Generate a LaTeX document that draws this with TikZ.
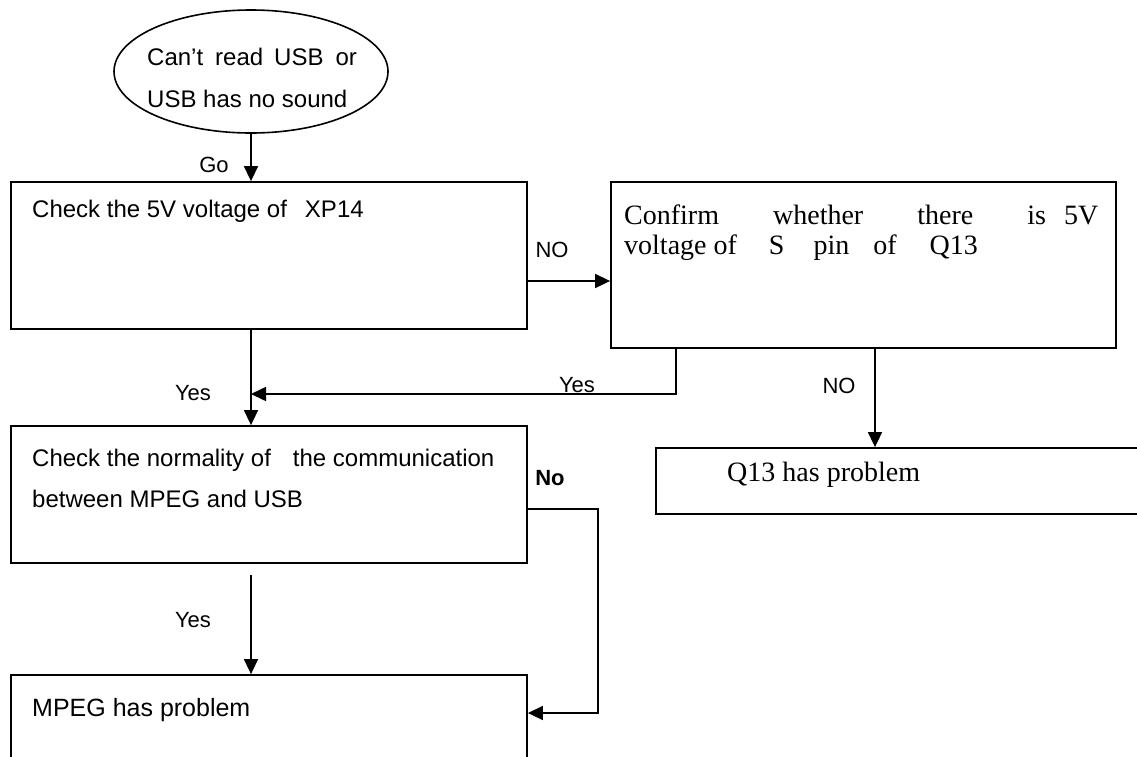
\documentclass[tikz,border=0pt]{standalone}
\usepackage{fontspec}
\setmainfont{Liberation Serif}
\setsansfont{Liberation Sans}
\newfontfamily\arialface{Liberation Sans}
\newfontfamily\romanface{Liberation Serif}
\usetikzlibrary{arrows.meta,shapes.geometric}

\tikzset{
  box/.style={draw, rectangle, line width=1.8pt, inner sep=0pt},
  conn/.style={line width=1.6pt},
  arr/.style={conn, -{Triangle[length=15pt,width=14pt]}},
  txt/.style={inner sep=0pt, anchor=base west, font=\arialface\fontsize{24}{28}\selectfont},
  stxt/.style={inner sep=0pt, anchor=base west, font=\romanface\fontsize{28}{32}\selectfont},
  lbl/.style={inner sep=0pt, font=\arialface\fontsize{22}{26}\selectfont}
}

\begin{document}
\begin{tikzpicture}[x=1pt,y=-1pt]
\useasboundingbox (0,0) rectangle (1137,756);
\clip (0,0) rectangle (1137,756);

% start terminal
\node[draw, ellipse, line width=1.6pt, inner sep=0pt, minimum width=274pt, minimum height=123pt] (start) at (251,71.5) {};
\node[txt] (s1) at (147,65) {Can’t\hspace{12pt}read\hspace{11pt}USB\hspace{12pt}or};
\node[txt] (s2) at (147,107) {USB has no sound};

% process boxes
\node[box, minimum width=516pt, minimum height=147pt] (b1) at (269,255.5) {};
\node[box, minimum width=505pt, minimum height=166pt] (b2) at (863.5,265) {};
\node[box, minimum width=516pt, minimum height=137pt] (b3) at (269,494.5) {};
\node[box, minimum width=494pt, minimum height=66pt] (b4) at (903,481) {};
\node[box, minimum width=516pt, minimum height=100pt] (b5) at (269,725) {};

% box texts
\node[txt] (t1) at (32,217) {Check the 5V voltage of\hspace{18pt}XP14};
\node[stxt] (t2a) at (624,224) {\makebox[474pt][l]{Confirm\hfill whether\hfill there\hfill is\hspace{18pt}5V}};
\node[stxt] (t2b) at (624,254) {voltage of\hspace{32pt}S\hspace{29pt}pin\hspace{24pt}of\hspace{33pt}Q13};
\node[txt] (t3a) at (32,466) {Check the normality of\hspace{22pt}the communication};
\node[txt] (t3b) at (32,507) {between MPEG and USB};
\node[stxt] (t4) at (727,481) {Q13 has problem};
\node[txt, font=\arialface\fontsize{25}{29}\selectfont] (t5) at (32,716) {MPEG has problem};

% connectors
\draw[arr] (start.south) -- (start.south |- b1.north);
\draw[arr] (b1.east |- 0,281) -- (b2.west |- 0,281);
\draw[arr] (start.south |- b1.south) -- (start.south |- b3.north);
\draw[arr] (b2.south -| 676,0) -- (676,394) -- (start.south |- 0,394);
\draw[arr] (b2.south -| 875,0) -- (b4.north -| 875,0);
\coordinate (gap) at (251,575);
\draw[arr] (gap) -- (gap |- b5.north);
\draw[arr] (b3.east |- 0,509) -| (598,713) -- (b5.east |- 0,713);

% connector labels
\node[lbl] (go) at (214,165) {Go};
\node[lbl] (no1) at (552,250) {NO};
\node[lbl] (yes1) at (193,393) {Yes};
\node[lbl] (yes2) at (577,385) {Yes};
\node[lbl] (no2) at (839,386) {NO};
\node[lbl, font=\arialface\bfseries\fontsize{22}{26}\selectfont] (no3) at (550,478) {No};
\node[lbl] (yes3) at (193,620) {Yes};
\end{tikzpicture}
\end{document}
